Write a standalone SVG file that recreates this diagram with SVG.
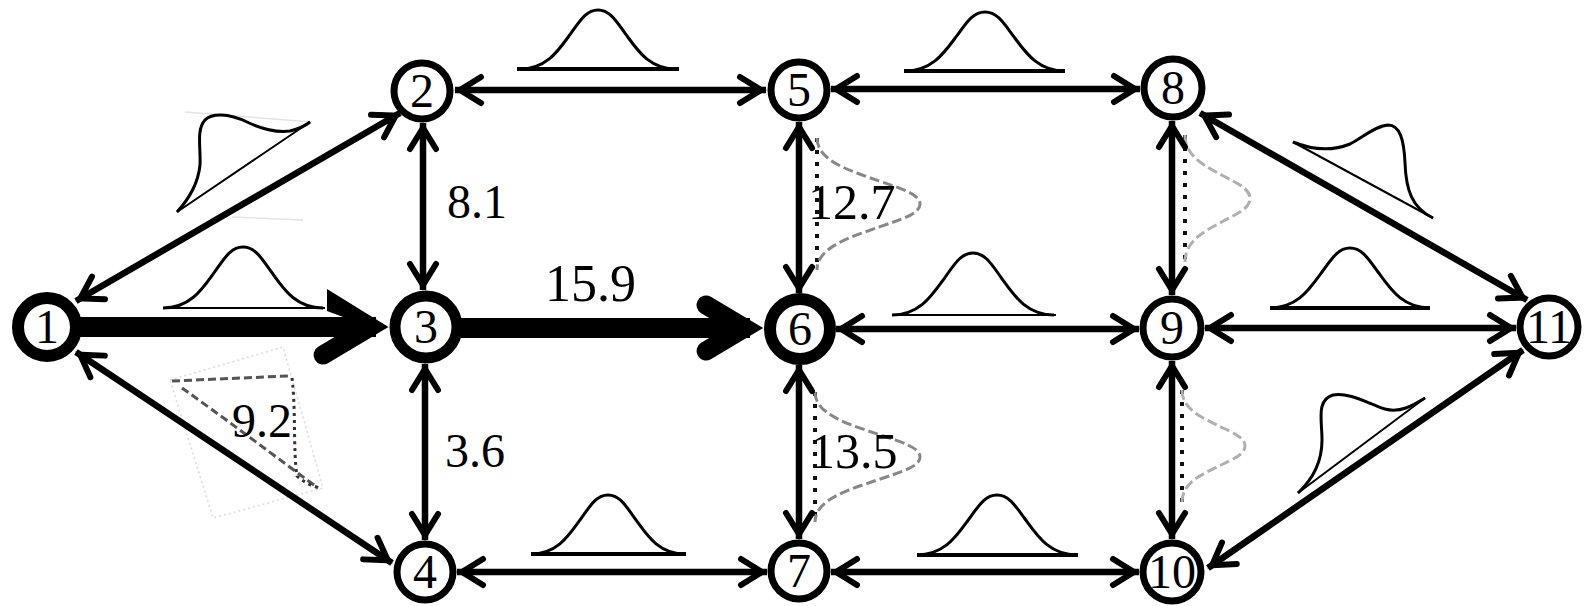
<svg xmlns="http://www.w3.org/2000/svg" width="1585" height="606" viewBox="0 0 1585 606">
<style>
.e{fill:none;stroke:#000;stroke-width:6.5;marker-start:url(#ah);marker-end:url(#ah)}
.nd{fill:#fff;stroke:#000;stroke-width:7}
.bd{fill:#fff;stroke:#000;stroke-width:12}
.nt{font-family:"Liberation Serif","Times New Roman",serif;font-size:48px;text-anchor:middle;fill:#000}
.lb{font-family:"Liberation Serif","Times New Roman",serif;font-size:48px;fill:#000}
.g{fill:none;stroke:#000;stroke-width:3}
.gb{fill:none;stroke:#000;stroke-width:4}
.gbt{fill:none;stroke:#000;stroke-width:2}
.dot{fill:none;stroke:#111;stroke-width:4;stroke-dasharray:4 8}
.blur{fill:none;stroke:#888;stroke-width:3;stroke-dasharray:10 4}
.blurl{fill:none;stroke:#b0b0b0;stroke-width:3;stroke-dasharray:10 4}
.faint{fill:none;stroke:#e4e4e4;stroke-width:1.5}
.bold{fill:none;stroke:#000;stroke-width:20}
.head{fill:none;stroke:#000;stroke-width:19;stroke-linecap:round;stroke-linejoin:miter}
</style>
<defs>
<marker id="ah" markerUnits="userSpaceOnUse" markerWidth="40" markerHeight="40" viewBox="-34 -20 40 40" refX="0" refY="0" orient="auto-start-reverse">
<path d="M-26,-13 L-5,0 L-26,13" fill="none" stroke="#000" stroke-width="6" stroke-linecap="round" stroke-linejoin="miter"/>
</marker>
</defs>
<rect width="1585" height="606" fill="#fff"/>

<g id="distributions">
<path class="g" d="M163,308 C191,308 203,287.9 215,271.4 C224.6,258 231,247 243,247 C255,247 261.4,258 271,271.4 C283,287.9 295,308 323,308"/>
<line class="gbt" x1="163" y1="308" x2="325" y2="308"/>
<path class="g" d="M520,69 C547.3,69 559,49.5 570.7,33.6 C580.1,20.6 586.3,10 598,10 C609.7,10 615.9,20.6 625.3,33.6 C637,49.5 648.7,69 676,69"/>
<line class="gb" x1="517" y1="69" x2="679" y2="69"/>
<path class="g" d="M905,71 C933,71 945,51.5 957,35.6 C966.6,22.6 973,12 985,12 C997,12 1003.4,22.6 1013,35.6 C1025,51.5 1037,71 1065,71"/>
<line class="gb" x1="904" y1="71" x2="1065" y2="71"/>
<path class="g" d="M892,315 C920.3,315 932.5,294.5 944.7,277.8 C954.4,264.2 960.9,253 973,253 C985.1,253 991.6,264.2 1001.3,277.8 C1013.5,294.5 1025.7,315 1054,315"/>
<line class="gbt" x1="893" y1="315" x2="1056" y2="315"/>
<path class="g" d="M1270,308 C1298,308 1310,288.2 1322,272 C1331.6,258.8 1338,248 1350,248 C1362,248 1368.4,258.8 1378,272 C1390,288.2 1402,308 1430,308"/>
<line class="gb" x1="1270" y1="308" x2="1430" y2="308"/>
<path class="g" d="M531,554 C558,554 569.5,534.5 581,518.6 C590.3,505.6 596.4,495 608,495 C619.6,495 625.7,505.6 635,518.6 C646.5,534.5 658,554 685,554"/>
<line class="gb" x1="531" y1="554" x2="686" y2="554"/>
<path class="g" d="M917,555 C945,555 957,535.2 969,519 C978.6,505.8 985,495 997,495 C1009,495 1015.4,505.8 1025,519 C1037,535.2 1049,555 1077,555"/>
<line class="gb" x1="917" y1="555" x2="1078" y2="555"/>

<line class="faint" x1="185" y1="112" x2="312" y2="122"/>
<line class="faint" x1="232" y1="217" x2="303" y2="220"/>
<path class="g" d="M177,212 C188,200 198,185 200,165 C201,148 196,130 205,120 C212,113 228,113 247,122 C262,129 275,133 290,131 C298,129 305,126 310,122"/>
<line class="gbt" x1="177" y1="212" x2="310" y2="122"/>
<path class="g" d="M1293,142 C1310,149 1330,152 1350,144 C1362,138 1375,126 1388,125 C1400,125 1404,140 1405,163 C1406,190 1412,208 1433,218"/>
<line class="gbt" x1="1293" y1="142" x2="1433" y2="218"/>
<path class="g" d="M1298,493 C1312,480 1322,462 1322,440 C1322,420 1316,400 1333,395 C1348,392 1365,402 1385,409 C1400,413 1412,406 1425,398"/>
<line class="gbt" x1="1298" y1="493" x2="1425" y2="398"/>

<polygon points="170,380 283,347 323,488 213,518" fill="none" stroke="#dadada" stroke-width="1.5" stroke-dasharray="2 3"/>
<line x1="172" y1="381" x2="288" y2="376" stroke="#555" stroke-width="3" stroke-dasharray="8 4"/>
<path d="M182,388 C220,415 260,445 318,488" fill="none" stroke="#555" stroke-width="3" stroke-dasharray="8 4"/>
<path d="M292,378 C296,410 293,450 297,476 C303,482 312,486 320,488" fill="none" stroke="#333" stroke-width="3" stroke-dasharray="3 4"/>

<path class="dot" d="M817,138 L817,270"/>
<path class="blur" d="M817,138 C817,161.1 851,171 878.8,180.9 C901.5,188.8 920,194.1 920,204 C920,213.9 901.5,219.2 878.8,227.1 C851,237 817,246.9 817,270"/>
<path class="dot" d="M815,392 L815,522"/>
<path class="blur" d="M815,392 C815,414.75 849.7,424.5 878,434.25 C901,442 920,447.25 920,457 C920,466.75 901,472 878,479.75 C849.7,489.5 815,499.25 815,522"/>
<path class="dot" d="M1185,135 L1185,262"/>
<path class="blurl" d="M1185,135 C1185,157.2 1206.5,166.75 1224,176.3 C1238.3,183.9 1250,189 1250,198.5 C1250,208 1238.3,213.1 1224,220.7 C1206.5,230.25 1185,239.8 1185,262"/>
<path class="dot" d="M1182,390 L1182,502"/>
<path class="blurl" d="M1182,390 C1182,409.6 1202.8,418 1219.8,426.4 C1233.7,433.1 1245,437.6 1245,446 C1245,454.4 1233.7,458.9 1219.8,465.6 C1202.8,474 1182,482.4 1182,502"/>
</g>

<g id="connectors">
<line class="e" x1="455" y1="90" x2="766" y2="90"/>
<line class="e" x1="831" y1="89" x2="1140" y2="89"/>
<line class="e" x1="457" y1="572" x2="767" y2="572"/>
<line class="e" x1="831" y1="572" x2="1139" y2="572"/>
<line class="e" x1="836" y1="329" x2="1139" y2="329"/>
<line class="e" x1="1205" y1="328" x2="1516" y2="328"/>
<line class="e" x1="423" y1="123" x2="423" y2="290"/>
<line class="e" x1="425" y1="364" x2="425" y2="540"/>
<line class="e" x1="799" y1="122" x2="799" y2="293"/>
<line class="e" x1="799" y1="365" x2="799" y2="539"/>
<line class="e" x1="1172" y1="121" x2="1172" y2="295"/>
<line class="e" x1="1172" y1="361" x2="1172" y2="539"/>
<line class="e" x1="76" y1="301" x2="400" y2="113"/>
<line class="e" x1="76" y1="352" x2="392" y2="563"/>
<line class="e" x1="1200" y1="113" x2="1527" y2="300"/>
<line class="e" x1="1208" y1="568" x2="1523" y2="350"/>
<line class="bold" x1="80" y1="327" x2="376" y2="327"/>
<line x1="323" y1="355" x2="370" y2="327" stroke="#000" stroke-width="19" stroke-linecap="round"/>
<polygon points="327,289 388.5,327 374.9,335.1 370,327 327,311" fill="#000"/>
<line class="bold" x1="460" y1="328" x2="750" y2="328"/>
<path class="head" d="M706,305 L744.6,328 L706,351"/>
</g>

<g id="node-1"><circle class="bd" cx="47" cy="327" r="29"/><text class="nt" x="47" y="343">1</text></g>
<g id="node-2"><circle class="nd" cx="422" cy="91" r="28"/><text class="nt" x="422" y="107">2</text></g>
<g id="node-3"><circle class="bd" cx="426" cy="327" r="31" style="stroke-width:11"/><text class="nt" x="426" y="343">3</text></g>
<g id="node-4"><circle class="nd" cx="425" cy="572" r="28"/><text class="nt" x="425" y="588">4</text></g>
<g id="node-5"><circle class="nd" cx="799" cy="90" r="28"/><text class="nt" x="799" y="106">5</text></g>
<g id="node-6"><circle class="bd" cx="800" cy="329" r="30"/><text class="nt" x="800" y="345">6</text></g>
<g id="node-7"><circle class="nd" cx="799" cy="571" r="28"/><text class="nt" x="799" y="587">7</text></g>
<g id="node-8"><circle class="nd" cx="1173" cy="88" r="29"/><text class="nt" x="1173" y="104">8</text></g>
<g id="node-9"><circle class="nd" cx="1172" cy="328" r="29"/><text class="nt" x="1172" y="344">9</text></g>
<g id="node-10"><circle class="nd" cx="1172" cy="572" r="29"/><text class="nt" x="1172" y="588">10</text></g>
<g id="node-11"><circle class="nd" cx="1549" cy="327" r="29"/><text class="nt" x="1549" y="343">11</text></g>

<g id="labels">
<text class="lb" x="447" y="218">8.1</text>
<text class="lb" x="545" y="301" style="font-size:52px">15.9</text>
<text class="lb" x="445" y="467">3.6</text>
<text class="lb" x="808" y="219" fill="#222" style="font-size:50px">12.7</text>
<text class="lb" x="810" y="468" fill="#222" style="font-size:50px">13.5</text>
<text class="lb" x="232" y="437" fill="#333">9.2</text>
</g>
</svg>
